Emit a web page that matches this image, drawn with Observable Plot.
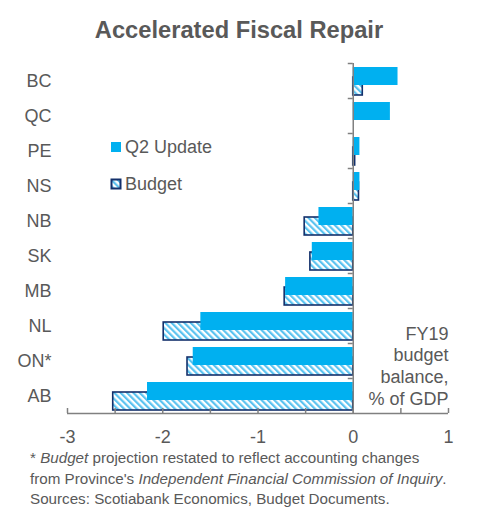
<!DOCTYPE html>
<html><head><meta charset="utf-8">
<script src="https://cdn.jsdelivr.net/npm/d3@7"></script>
<script src="https://cdn.jsdelivr.net/npm/@observablehq/plot@0.6"></script>
<style>
body{margin:0;background:#fff;}
#wrap{position:relative;width:480px;height:508px;overflow:hidden;background:#fff}
svg text{font-family:Arial,"Liberation Sans",sans-serif;}
</style></head><body><div id="wrap"></div>
<script>
// ---- data ----
const provinces = ["BC","QC","PE","NS","NB","SK","MB","NL","ON*","AB"];
const q2Update  = [0.47, 0.39, 0.07, 0.07, -0.36, -0.43, -0.71, -1.60, -1.68, -2.16];
const budget    = [0.10, 0.00, 0.02, 0.06, -0.51, -0.45, -0.72, -1.99, -1.74, -2.52];
const seriesNames = ["Q2 Update", "Budget"];
const xDomain = [-3, 1];
const xTickLabels = [-3, -2, -1, 0, 1];
const xTickMarks = [-3, -2.5, -2, -1.5, -1, -0.5, 0, 0.5, 1];
const titleText = "Accelerated Fiscal Repair";
const axisNote = "FY19\nbudget\nbalance,\n% of GDP";

const BLUE = "#00B0F0", NAVY = "#13306B", GRAY_TEXT = "#595959", GRAY_AXIS = "#808080";

const rowsQ2 = provinces.map((p, i) => ({province: p, value: q2Update[i]}));
const rowsBudget = provinces.map((p, i) => ({province: p, value: budget[i]})).filter(d => d.value !== 0);

const svg = Plot.plot({
  width: 480, height: 508,
  marginTop: 63, marginBottom: 95, marginLeft: 67, marginRight: 32,
  x: {domain: xDomain, label: null},
  y: {domain: provinces, padding: 0, label: null},
  style: {fontFamily: "Arial, 'Liberation Sans', sans-serif", color: GRAY_TEXT, background: "white", overflow: "visible"},
  marks: [
    Plot.barX(rowsBudget, {x: "value", y: "province", fill: "url(#hatch)", stroke: NAVY, strokeWidth: 1.6, insetTop: 14, insetBottom: 3}),
    Plot.barX(rowsQ2, {x: "value", y: "province", fill: BLUE, insetTop: 4, insetBottom: 13}),
    Plot.ruleX([0], {stroke: GRAY_AXIS, strokeWidth: 1.5}),
    Plot.ruleY(provinces, {y: d => d, dy: -17.5, x1: 0, x2: 0, insetLeft: -5, stroke: GRAY_AXIS, strokeWidth: 1.5}),
    Plot.ruleY([provinces[provinces.length - 1]], {y: d => d, dy: 17.5, x1: xDomain[0], x2: xDomain[1], stroke: GRAY_AXIS, strokeWidth: 1.5}),
    Plot.ruleX(xTickMarks, {x: d => d, insetTop: 345, stroke: GRAY_AXIS, strokeWidth: 1.5}),
    Plot.axisX({ticks: xTickLabels, tickSize: 0, tickPadding: 17, tickFormat: d => String(d), fontSize: 18, fill: GRAY_TEXT, label: null}),
    Plot.axisY({tickSize: 0, tickPadding: 16, fontSize: 18, fill: GRAY_TEXT, label: null}),
    Plot.text([axisNote], {text: d => d, frameAnchor: "bottom-right", textAnchor: "end", lineAnchor: "bottom", lineHeight: 1.2, dy: -9, fontSize: 18, fill: GRAY_TEXT})
  ]
});

// hatch pattern
const s = d3.select(svg);
const defs = s.insert("defs", ":first-child");
const pat = defs.append("pattern").attr("id", "hatch").attr("patternUnits", "userSpaceOnUse")
  .attr("width", 4.5).attr("height", 4.5).attr("patternTransform", "rotate(-45)");
pat.append("rect").attr("width", 4.5).attr("height", 4.5).attr("fill", "white");
pat.append("rect").attr("width", 2.2).attr("height", 4.5).attr("fill", "#5BC3F0");

// title
s.append("text").attr("x", 239).attr("y", 38).attr("text-anchor", "middle")
  .attr("font-size", 23.7).attr("font-weight", "bold").attr("fill", GRAY_TEXT).text(titleText);

// legend
const lg = s.append("g").attr("text-anchor", "start");
lg.append("rect").attr("x", 111).attr("y", 142).attr("width", 10).attr("height", 10).attr("fill", BLUE);
lg.append("text").attr("x", 125).attr("y", 153).attr("font-size", 18).attr("fill", GRAY_TEXT).text(seriesNames[0]);
lg.append("rect").attr("x", 111.5).attr("y", 179.5).attr("width", 9).attr("height", 9).attr("fill", "url(#hatch)").attr("stroke", NAVY).attr("stroke-width", 2);
lg.append("text").attr("x", 125).attr("y", 190).attr("font-size", 18).attr("fill", GRAY_TEXT).text(seriesNames[1]);

// footnote
const fn = s.append("g").attr("font-size", 15.2).attr("fill", GRAY_TEXT).attr("text-anchor", "start");
const l1 = fn.append("text").attr("x", 30).attr("y", 463);
l1.append("tspan").text("* ");
l1.append("tspan").attr("font-style", "italic").text("Budget");
l1.append("tspan").text(" projection restated to reflect accounting changes");
const l2 = fn.append("text").attr("x", 30).attr("y", 484);
l2.append("tspan").text("from Province's ");
l2.append("tspan").attr("font-style", "italic").text("Independent Financial Commission of Inquiry");
l2.append("tspan").text(".");
fn.append("text").attr("x", 30).attr("y", 504).text("Sources: Scotiabank Economics, Budget Documents.");

document.getElementById("wrap").appendChild(svg);
</script></body></html>
